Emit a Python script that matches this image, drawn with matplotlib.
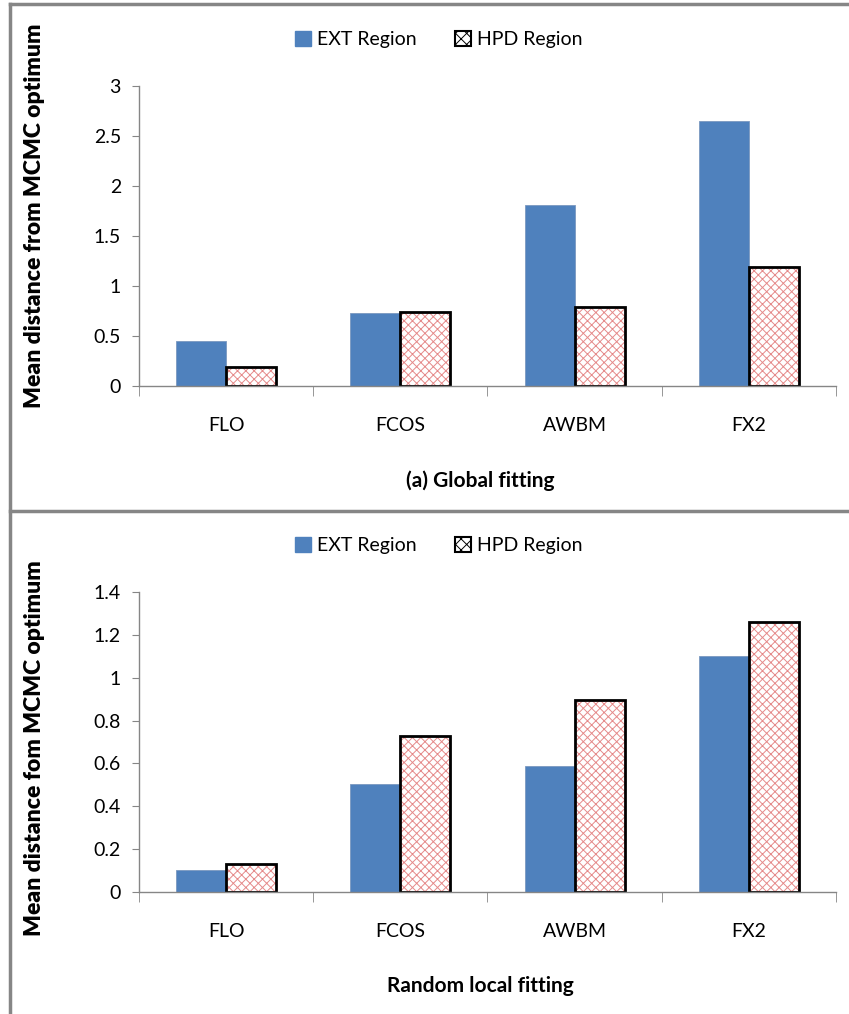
import numpy as np
import matplotlib
matplotlib.use("Agg")
import matplotlib.pyplot as plt
from matplotlib.lines import Line2D
from matplotlib.patches import Patch

plt.rcParams['font.family'] = ['Lato', 'DejaVu Sans']
plt.rcParams['hatch.linewidth'] = 0.7

models = ['FLO', 'FCOS', 'AWBM', 'FX2']
series = ['EXT Region', 'HPD Region']

global_ext = [0.45, 0.73, 1.81, 2.65]
global_hpd = [0.19, 0.74, 0.79, 1.19]
local_ext = [0.105, 0.505, 0.59, 1.10]
local_hpd = [0.13, 0.73, 0.895, 1.26]

global_ticks = [0, 0.5, 1, 1.5, 2, 2.5, 3]
local_ticks = [0, 0.2, 0.4, 0.6, 0.8, 1, 1.2, 1.4]

blue = '#4F81BD'
hatch_red = '#E58A8A'
grey = '#868686'


def panel(ax, ext, hpd, yticks, ylabel, xlabel, ylab_y):
    x = np.arange(len(models))
    w = 0.287
    ax.bar(x - w / 2, ext, w, color=blue, edgecolor='#7a98c0', linewidth=0.6)
    ax.bar(x + w / 2, hpd, w, color='white', edgecolor=hatch_red, hatch='xxxx', linewidth=0)
    ax.bar(x + w / 2, hpd, w, color='none', edgecolor='black', linewidth=2)
    ax.set_xlim(-0.5, len(models) - 0.5)
    ax.set_ylim(yticks[0], yticks[-1])
    ax.set_yticks(yticks)
    ax.set_yticklabels([('%g' % t) for t in yticks], fontsize=14)
    ax.set_xticks(x)
    ax.set_xticklabels(models, fontsize=14)
    ax.set_xticks(np.arange(len(models) + 1) - 0.5, minor=True)
    ax.tick_params(axis='x', which='major', length=0, pad=22)
    ax.tick_params(axis='x', which='minor', length=7, color=grey, direction='out')
    ax.tick_params(axis='y', length=5, color=grey, direction='out', pad=8)
    for s in ['top', 'right']:
        ax.spines[s].set_visible(False)
    for s in ['left', 'bottom']:
        ax.spines[s].set_color(grey)
        ax.spines[s].set_linewidth(1)
    ax.set_ylabel(ylabel, fontsize=16.5, fontweight='heavy')
    ax.yaxis.set_label_coords(-0.135, ylab_y)
    ax.set_xlabel(xlabel, fontsize=15, fontweight='bold')
    ax.xaxis.set_label_coords(0.49, -0.28)
    handles = [Patch(facecolor=blue, edgecolor=blue),
               Patch(facecolor='white', edgecolor='black', hatch='xxx', linewidth=1.5)]
    ax.legend(handles, series, loc='center', bbox_to_anchor=(0.43, 1.155), ncol=2,
              frameon=False, fontsize=14, handlelength=0.8, handleheight=0.8,
              handletextpad=0.3, columnspacing=2.0)


fig = plt.figure(figsize=(8.49, 10.14), dpi=100)
ax1 = fig.add_axes([0.1637, 0.6193, 0.821, 0.2959])
ax2 = fig.add_axes([0.1637, 0.1203, 0.821, 0.2959])

panel(ax1, global_ext, global_hpd, global_ticks,
      'Mean distance from MCMC optimum', '(a) Global fitting', 0.567)
panel(ax2, local_ext, local_hpd, local_ticks,
      'Mean distance fom MCMC optimum', 'Random local fitting', 0.48)

# outer frame lines of the two panels
fig.add_artist(Line2D([0.012, 0.012], [0, 0.996], color=grey, lw=2.5))
fig.add_artist(Line2D([0.012, 1], [0.996, 0.996], color=grey, lw=2.5))
fig.add_artist(Line2D([0.012, 1], [0.496, 0.496], color=grey, lw=2.5))

fig.savefig('out.png', dpi=100)
